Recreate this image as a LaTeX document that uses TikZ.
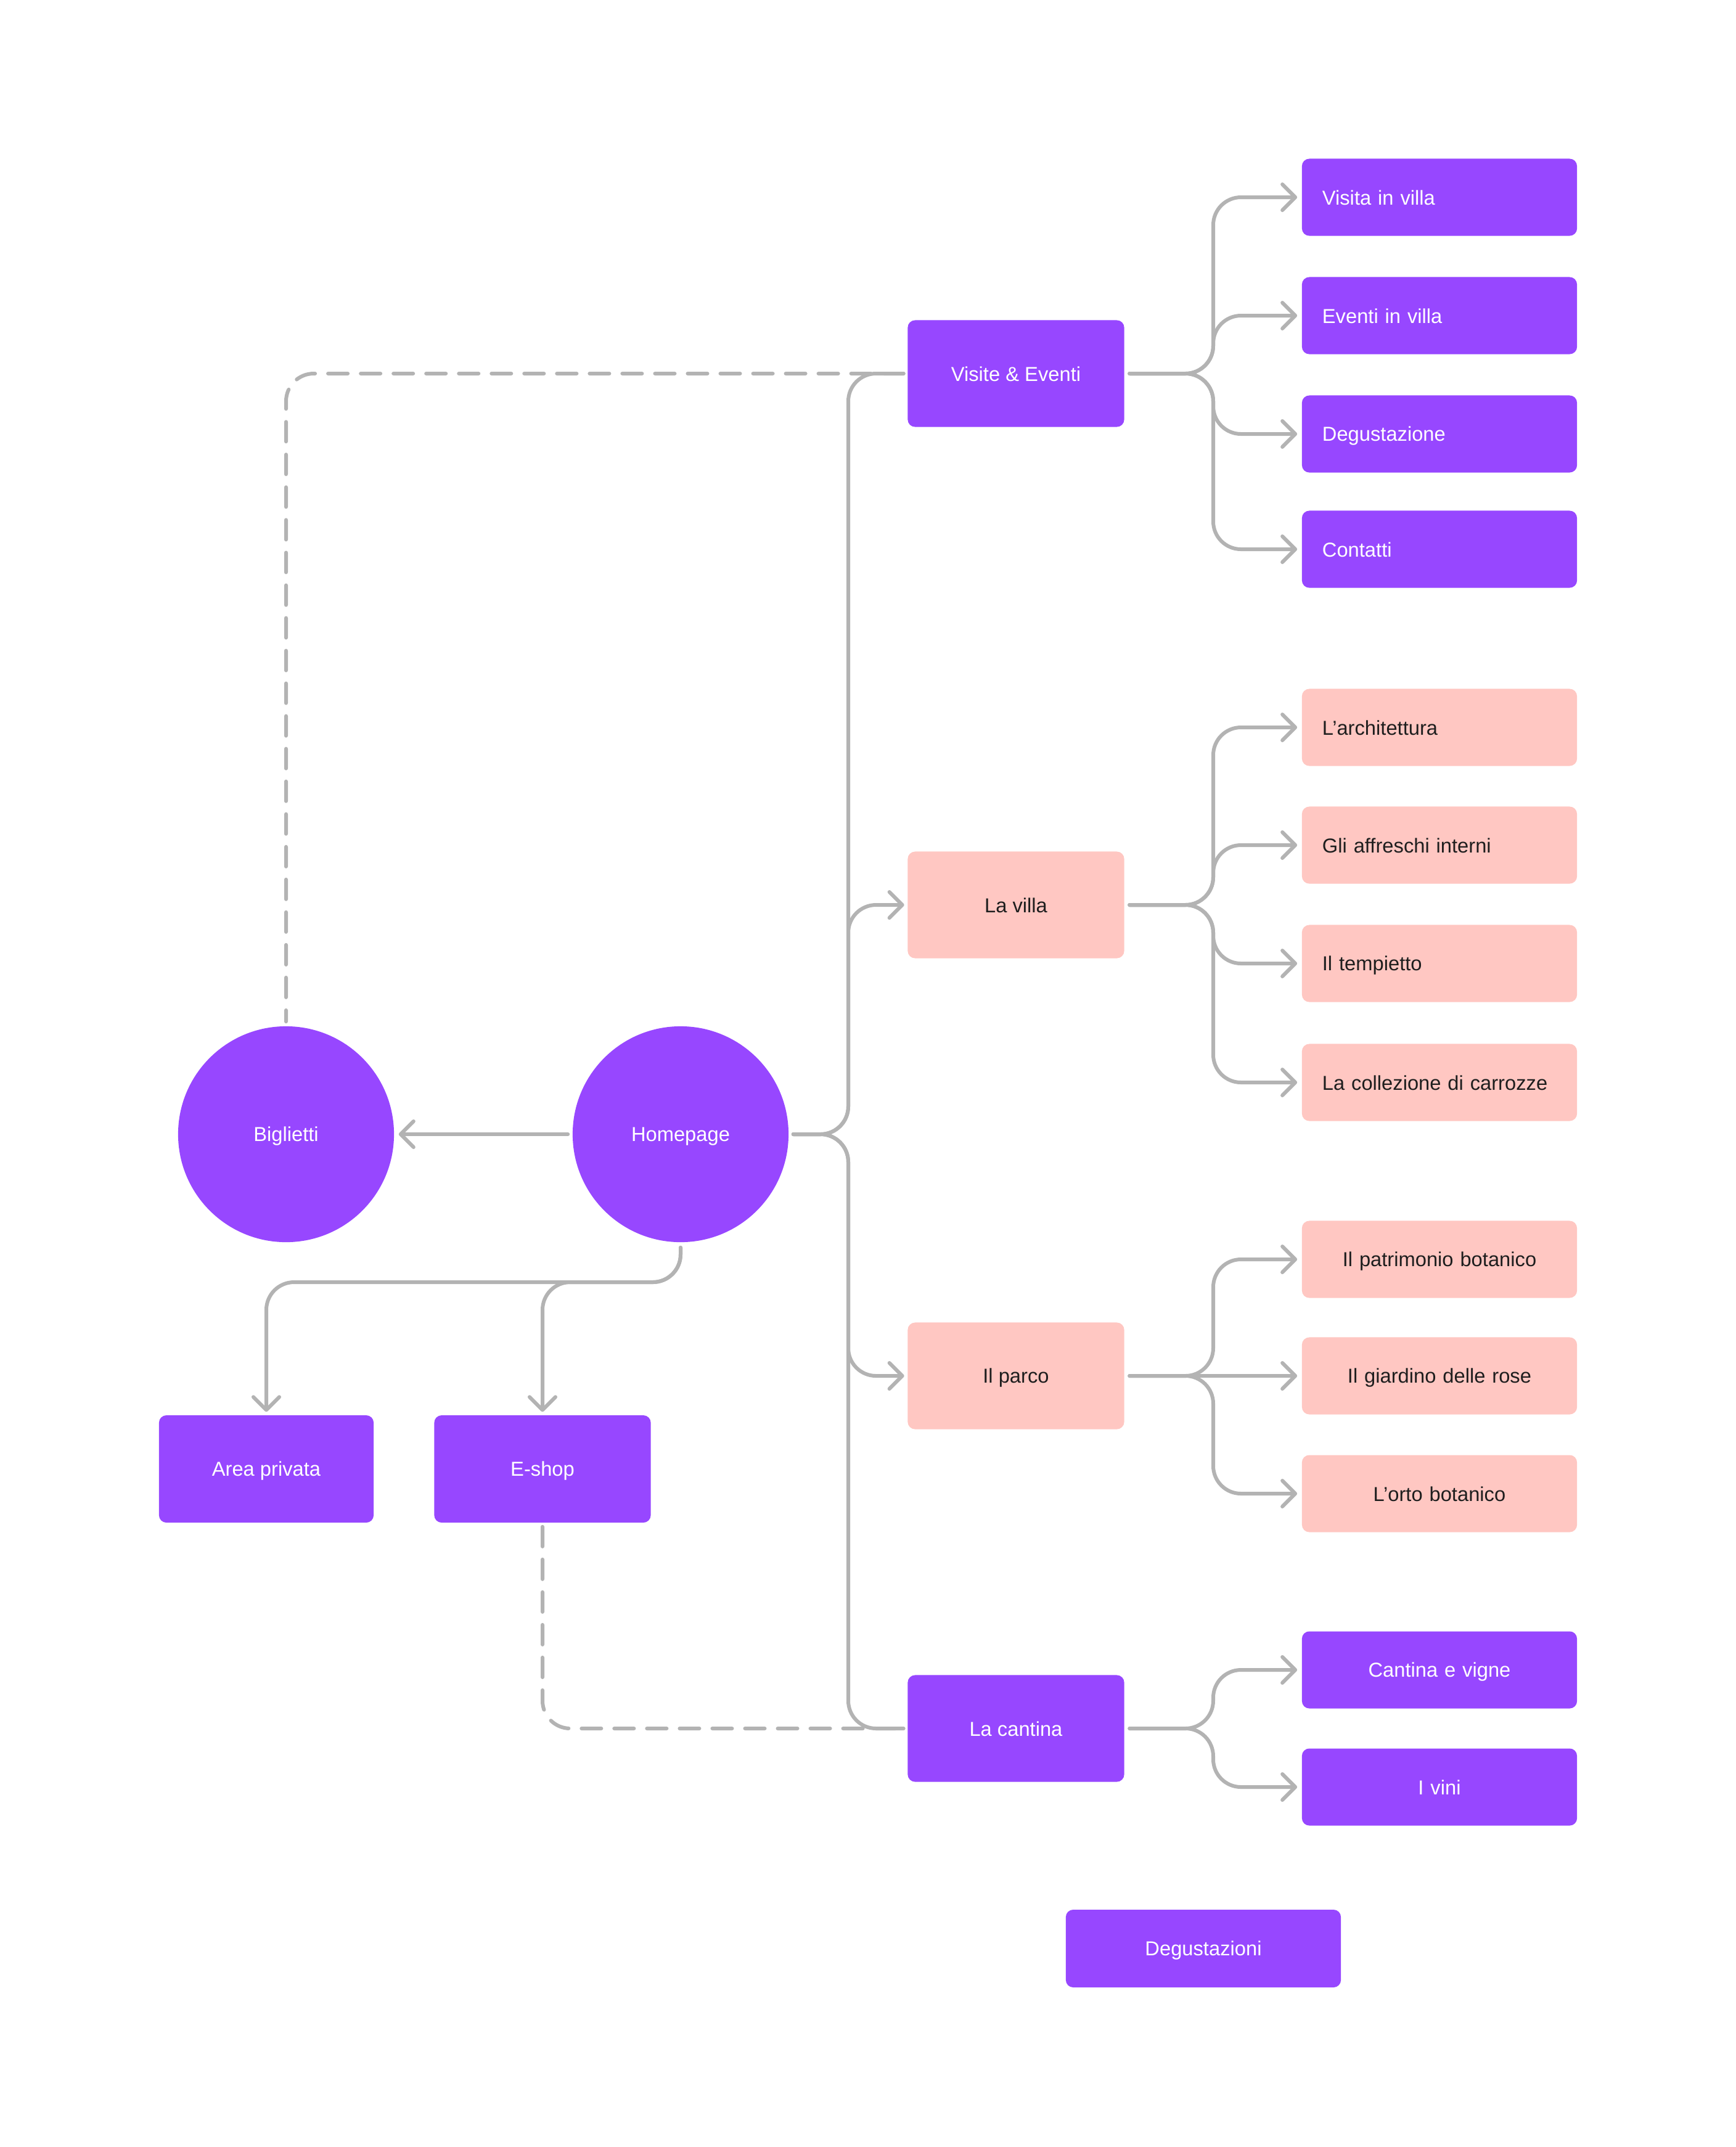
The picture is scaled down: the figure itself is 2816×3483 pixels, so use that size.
\documentclass[tikz,border=0pt]{standalone}
\usepackage{fontspec}
\setmainfont{Liberation Sans}
\usetikzlibrary{arrows.meta,calc}
\definecolor{violet9}{HTML}{9747FF}
\definecolor{pinkbox}{HTML}{FFC7C2}
\definecolor{linegray}{HTML}{B3B3B3}
\definecolor{darktxt}{HTML}{1E1E1E}
\newcommand{\mystrut}{\rule[-1.6pt]{0pt}{10.1pt}}
\begin{document}
\begin{tikzpicture}[x=0.01cm,y=-0.01cm,
 every node/.style={font=\fontsize{9.3pt}{11pt}\selectfont},
 base/.style={rectangle, rounded corners=0.12cm, inner ysep=0pt, execute at begin node=\mystrut},
 childL/.style={base, text width=3.8cm, inner xsep=0.33cm, minimum height=1.25cm, align=left},
 childC/.style={base, text width=4.46cm, inner xsep=0pt, minimum height=1.25cm, align=center},
 pv/.style={fill=violet9, text=white},
 pk/.style={fill=pinkbox, text=darktxt},
 parent/.style={base, minimum width=3.51cm, minimum height=1.73cm, inner xsep=0pt, align=center},
 circ/.style={circle, fill=violet9, text=white, minimum size=3.5cm, inner sep=0pt, execute at begin node=\mystrut},
 conn/.style={draw=linegray, line width=0.06cm, rounded corners=0.45cm, line cap=round},
 arr/.style={-{Straight Barb[length=0.21cm,width=0.42cm,round]}},
 dsh/.style={conn, dash pattern=on 0.32cm off 0.21cm},
]
\useasboundingbox[fill=white] (0,0) rectangle (2816,3483);

% coordinates for junctions
\coordinate (jt) at (1376,0);
\coordinate (jc) at (1968,0);
\coordinate (hy) at (0,2080);

% circles
\node[circ] (hp) at (1104,1840) {Homepage};
\node[circ] (bg) at (464,1840) {Biglietti};

% parent boxes
\node[parent,pv] (ve) at (1648,606) {Visite \& Eventi};
\node[parent,pk] (lv) at (1648,1468) {La villa};
\node[parent,pk] (pc) at (1648,2232) {Il parco};
\node[parent,pv] (lc) at (1648,2804) {La cantina};

% left boxes
\node[parent,pv,minimum width=3.48cm,minimum height=1.74cm] (ap) at (432,2383) {Area privata};
\node[parent,pv,minimum width=3.51cm,minimum height=1.74cm] (es) at (880,2383) {E-shop};

% children
\node[childL,pv] (c1) at (2335,320) {Visita in villa};
\node[childL,pv] (c2) at (2335,512) {Eventi in villa};
\node[childL,pv] (c3) at (2335,704) {Degustazione};
\node[childL,pv] (c4) at (2335,891) {Contatti};

\node[childL,pk] (v1) at (2335,1180) {L’architettura};
\node[childL,pk] (v2) at (2335,1371) {Gli affreschi interni};
\node[childL,pk] (v3) at (2335,1563) {Il tempietto};
\node[childL,pk] (v4) at (2335,1756) {La collezione di carrozze};

\node[childC,pk] (p1) at (2335,2043) {Il patrimonio botanico};
\node[childC,pk] (p2) at (2335,2232) {Il giardino delle rose};
\node[childC,pk] (p3) at (2335,2423) {L’orto botanico};

\node[childC,pv] (k1) at (2335,2709) {Cantina e vigne};
\node[childC,pv] (k2) at (2335,2899) {I vini};

\node[base,pv,minimum width=4.46cm,minimum height=1.26cm,inner xsep=0pt] (dg) at (1952,3161) {Degustazioni};

% dashed connectors
\draw[dsh, shorten <=0.06cm, shorten >=0.07cm] (ve.west) -| (bg.north);
\draw[dsh, shorten <=0.06cm, shorten >=0.06cm] (es.south) |- (lc.west);

% trunk from homepage
\draw[conn, shorten <=0.07cm, shorten >=0.06cm] (hp.east) -- (hp.east -| jt) |- (ve.west);
\draw[conn, arr, shorten <=0.07cm, shorten >=0.05cm] (hp.east) -- (hp.east -| jt) |- (lv.west);
\draw[conn, arr, shorten <=0.07cm, shorten >=0.05cm] (hp.east) -- (hp.east -| jt) |- (pc.west);
\draw[conn, shorten <=0.07cm, shorten >=0.06cm] (hp.east) -- (hp.east -| jt) |- (lc.west);

% homepage to biglietti
\draw[conn, arr, shorten <=0.07cm, shorten >=0.07cm] (hp.west) -- (bg.east);

% homepage down
\draw[conn, arr, shorten <=0.08cm, shorten >=0.05cm] (hp.south) -- (hp.south |- hy) -| (ap.north);
\draw[conn, arr, shorten <=0.08cm, shorten >=0.05cm] (hp.south) -- (hp.south |- hy) -| (es.north);

% children connectors
\foreach \c in {c1,c2,c3,c4}
  \draw[conn, arr, shorten <=0.08cm, shorten >=0.07cm] (ve.east) -- (ve.east -| jc) |- (\c.west);
\foreach \c in {v1,v2,v3,v4}
  \draw[conn, arr, shorten <=0.08cm, shorten >=0.07cm] (lv.east) -- (lv.east -| jc) |- (\c.west);
\foreach \c in {p1,p3}
  \draw[conn, arr, shorten <=0.08cm, shorten >=0.07cm] (pc.east) -- (pc.east -| jc) |- (\c.west);
\draw[conn, arr, shorten <=0.08cm, shorten >=0.07cm] (pc.east) -- (p2.west);
\foreach \c in {k1,k2}
  \draw[conn, arr, shorten <=0.08cm, shorten >=0.07cm] (lc.east) -- (lc.east -| jc) |- (\c.west);
\end{tikzpicture}
\end{document}
